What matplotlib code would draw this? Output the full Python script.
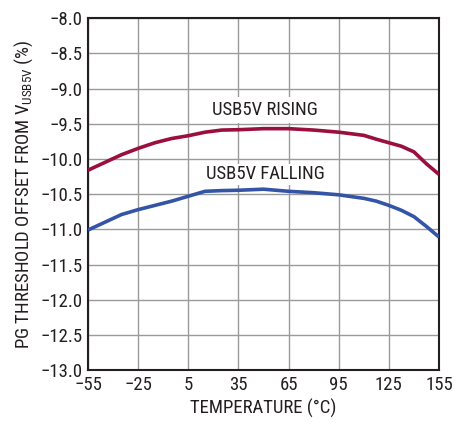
import matplotlib
matplotlib.use("Agg")
import matplotlib.pyplot as plt

FONT = "Roboto Condensed"
plt.rcParams['font.family'] = [FONT, 'DejaVu Sans']
plt.rcParams['mathtext.fontset'] = 'custom'
plt.rcParams['mathtext.rm'] = FONT
plt.rcParams['mathtext.it'] = FONT
plt.rcParams['axes.unicode_minus'] = True

temp = [-55, -45, -35, -25, -15, -5, 5, 15, 25, 35, 50, 65, 80, 95, 110, 117.5, 125, 132.5, 140, 147.5, 155]
rising = [-10.16, -10.05, -9.94, -9.85, -9.77, -9.71, -9.67, -9.62, -9.59, -9.585, -9.57, -9.57, -9.59,
          -9.62, -9.665, -9.72, -9.77, -9.82, -9.90, -10.07, -10.22]
falling = [-11.01, -10.90, -10.79, -10.72, -10.66, -10.60, -10.53, -10.46, -10.45, -10.445, -10.43, -10.46,
           -10.48, -10.51, -10.56, -10.60, -10.66, -10.73, -10.82, -10.96, -11.11]

xticks = [-55, -25, 5, 35, 65, 95, 125, 155]
yticks = [-13.0, -12.5, -12.0, -11.5, -11.0, -10.5, -10.0, -9.5, -9.0, -8.5, -8.0]

fig = plt.figure(figsize=(4.54, 4.22), dpi=100)
ax = fig.add_axes([0.194, 0.123, 0.773, 0.834])

ax.plot(temp, rising, color='#9A0F3C', lw=2.6, solid_capstyle='butt', solid_joinstyle='round', zorder=3)
ax.plot(temp, falling, color='#3454A6', lw=2.6, solid_capstyle='butt', solid_joinstyle='round', zorder=3)

ax.set_xlim(-55, 155)
ax.set_ylim(-13, -8)
ax.set_xticks(xticks)
ax.set_yticks(yticks)
ax.set_xticklabels([f"{t}".replace('-', '\u2212') for t in xticks])
ax.set_yticklabels([f"{v:.1f}".replace('-', '\u2212') for v in yticks])
ax.grid(True, color='#9a9a9a', lw=1.0, zorder=0)
ax.tick_params(length=0, labelsize=13.5, colors='#231f20', pad=4)
for s in ax.spines.values():
    s.set_color('#231f20')
    s.set_linewidth(1.5)

ax.set_xlabel('TEMPERATURE (°C)', fontsize=13.5, color='#231f20', labelpad=4)
ax.set_ylabel(r'PG THRESHOLD OFFSET FROM V$_{\mathrm{USB5V}}$ (%)', fontsize=13.5, color='#231f20', labelpad=4)

ax.text(51, -9.3, 'USB5V RISING', fontsize=13.5, color='#231f20', ha='center', va='center',
        bbox=dict(facecolor='white', edgecolor='none', pad=3), zorder=4)
ax.text(51, -10.22, 'USB5V FALLING', fontsize=13.5, color='#231f20', ha='center', va='center',
        bbox=dict(facecolor='white', edgecolor='none', pad=1), zorder=4)

fig.savefig('out.png', dpi=100)
